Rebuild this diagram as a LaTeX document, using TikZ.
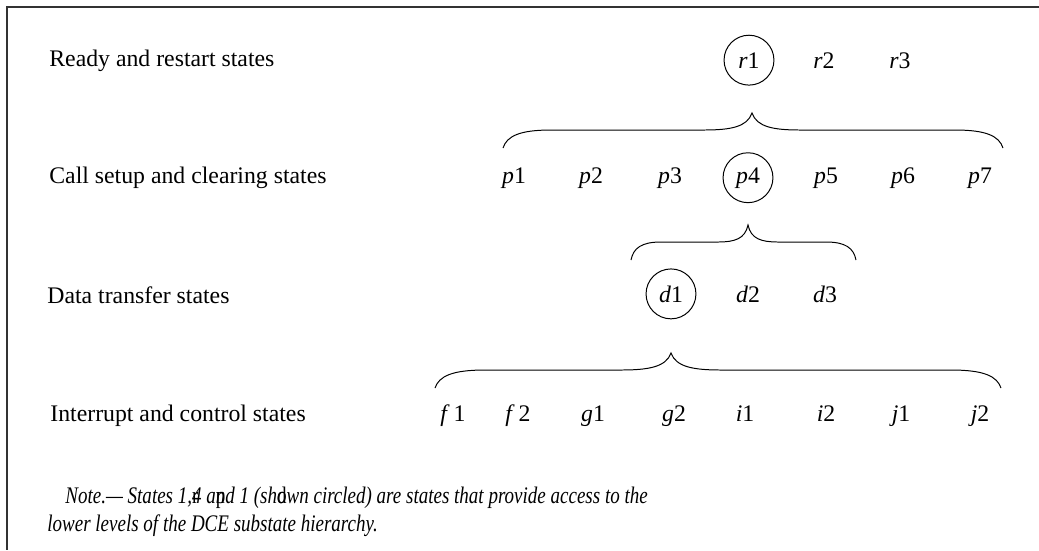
\documentclass[tikz,border=0pt]{standalone}
\usepackage{fontspec}
\setmainfont{Liberation Serif}
\usepackage{graphicx}
\usepackage{tikz}
\usetikzlibrary{calc, positioning}

% one unit = one pixel of the 1039 x 550 figure
\tikzset{
  txt/.style={font=\fontsize{12pt}{14pt}\selectfont, inner sep=0pt},
  rowlabel/.style={txt, anchor=base west},
  statelabel/.style={txt, anchor=base},
  circled/.style={statelabel, draw, line width=0.5pt, circle, minimum size=25.2pt},
  noteline/.style={txt, anchor=base west, font=\fontsize{12pt}{14pt}\selectfont\itshape},
  brace line/.style={line width=0.5pt},
}

% curly brace: left x, tip x, right x, y of the ends, width of the curls
\newcommand{\statebrace}[5]{%
  \draw[brace line] (#1,#4) .. controls (#1+0.08*#5,#4-12) and (#1+0.35*#5,#4-18) .. (#1+#5,#4-18)
    -- (#2-#5,#4-18) .. controls (#2-0.45*#5,#4-18) and (#2-0.1*#5,#4-21) .. (#2,#4-35)
    .. controls (#2+0.1*#5,#4-21) and (#2+0.45*#5,#4-18) .. (#2+#5,#4-18)
    -- (#3-#5,#4-18) .. controls (#3-0.35*#5,#4-18) and (#3-0.08*#5,#4-12) .. (#3,#4);}
% upright letter printed over the note text
\newcommand{\overletter}[1]{\makebox[0pt][l]{\upshape #1}}
% the note is set narrow
\newcommand{\narrow}[1]{\scalebox{0.8}[1]{#1}}

\begin{document}
\begin{tikzpicture}[x=0.505pt, y=-0.505pt]
  \useasboundingbox (0,0) rectangle (1039,550);
  % frame (top and left edges only)
  \draw[line width=0.8pt, black!80] (1039,7) -- (7,7) -- (7,550);

  % row labels
  \node[rowlabel] (lready) at (49,66) {Ready and restart states};
  \node[rowlabel] (lcall) at (49,183) {Call setup and clearing states};
  \node[rowlabel] (ldata) at (47,303) {Data transfer states};
  \node[rowlabel] (lintr) at (50,421) {Interrupt and control states};

  % ready and restart states
  \node[circled] (r1) at (749,68) {\textit{r}1};
  \node[statelabel] (r2) at (824,68) {\textit{r}2};
  \node[statelabel] (r3) at (900,68) {\textit{r}3};

  \statebrace{503}{752}{1003}{148}{48}

  % call setup and clearing states
  \node[statelabel] (p1) at (514,183) {\textit{p}1};
  \node[statelabel] (p2) at (591,183) {\textit{p}2};
  \node[statelabel] (p3) at (670,183) {\textit{p}3};
  \node[circled] (p4) at (748,183) {\textit{p}4};
  \node[statelabel] (p5) at (826,183) {\textit{p}5};
  \node[statelabel] (p6) at (903,183) {\textit{p}6};
  \node[statelabel] (p7) at (980,183) {\textit{p}7};

  \statebrace{631}{748}{856}{260}{30}

  % data transfer states
  \node[circled] (d1) at (671,302) {\textit{d}1};
  \node[statelabel] (d2) at (748,302) {\textit{d}2};
  \node[statelabel] (d3) at (825,302) {\textit{d}3};

  \statebrace{435}{671}{1001}{388}{50}

  % interrupt and control states
  \node[statelabel] (f1) at (453,421) {\textit{f}\,1};
  \node[statelabel] (f2) at (518,421) {\textit{f}\,2};
  \node[statelabel] (g1) at (593,421) {\textit{g}1};
  \node[statelabel] (g2) at (674,421) {\textit{g}2};
  \node[statelabel] (i1) at (745,421) {\textit{i}1};
  \node[statelabel] (i2) at (826,421) {\textit{i}2};
  \node[statelabel] (j1) at (901,421) {\textit{j}1};
  \node[statelabel] (j2) at (980,421) {\textit{j}2};

  % note
  \node[noteline] (note1) at (65,503) {\narrow{Note.--- States 1,\overletter{r}4 a\overletter{p}nd 1 (sh\overletter{d}own circled) are states that provide access to the}};
  \node[noteline] (note2) at (47,531) {\narrow{lower levels of the DCE substate hierarchy.}};
\end{tikzpicture}
\end{document}
